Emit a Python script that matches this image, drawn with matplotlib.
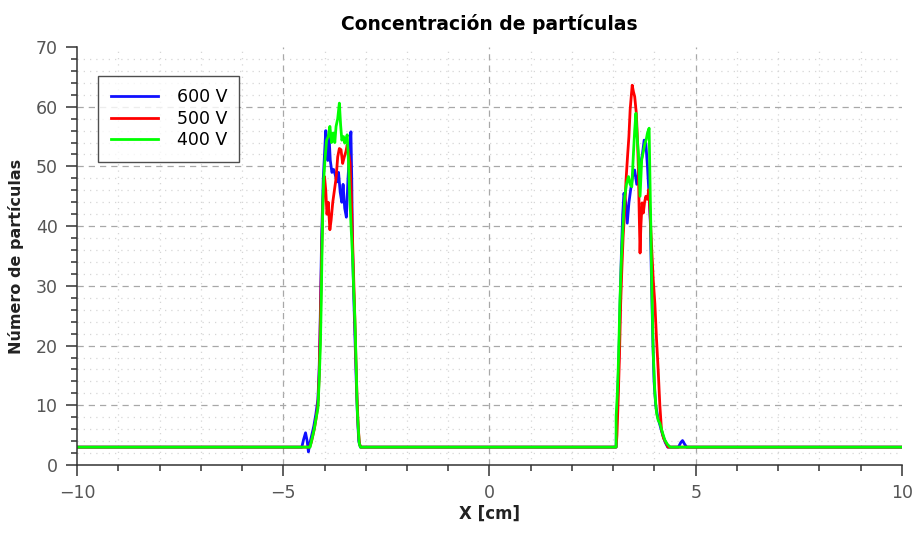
import matplotlib
matplotlib.use("Agg")
import matplotlib.pyplot as plt
from matplotlib.ticker import MultipleLocator

plt.rcParams['font.family'] = ['DejaVu Sans']

# 600 V
x_600 = [-10, -4.55, -4.51, -4.46, -4.42, -4.39, -4.36, -4.31, -4.26, -4.21, -4.16, -4.13,
         -4.11, -4.09, -4.07, -4.05, -4.03, -4.00, -3.97, -3.95, -3.92, -3.89, -3.86, -3.82,
         -3.78, -3.74, -3.70, -3.66, -3.62, -3.58, -3.55, -3.51, -3.47, -3.43, -3.39, -3.36,
         -3.34, -3.32, -3.29, -3.26, -3.23, -3.20, -3.17, -3.13,
         3.07, 3.08, 3.11, 3.14, 3.17, 3.20, 3.23, 3.26, 3.30, 3.34, 3.38, 3.42, 3.47, 3.52,
         3.57, 3.62, 3.67, 3.71, 3.75, 3.79, 3.83, 3.87, 3.90, 3.93, 3.96, 3.99, 4.03, 4.08,
         4.14, 4.20, 4.26, 4.32, 4.58, 4.64, 4.68, 4.73, 4.78, 10]
y_600 = [3, 3, 4.2, 5.4, 4.0, 2.2, 3.5, 5.0, 6.5, 8.5, 11, 16,
         22, 30, 38, 43, 48, 52, 56, 54, 51, 55, 51, 49,
         49.5, 48.6, 47.4, 49, 45.7, 44, 47, 43, 41.5, 48, 53, 55.8,
         48, 36, 28, 21, 14, 8, 4, 3,
         3, 7, 12, 19, 28, 36, 42, 45.5, 44, 40.5, 43.9, 46, 48.3, 49.4,
         47, 49, 50.6, 52.2, 54.4, 53.9, 50, 45, 40.5, 30, 21, 14, 10, 8,
         6.5, 5, 3.8, 3, 3, 3.8, 4.1, 3.5, 3, 3]

# 500 V
x_500 = [-10, -4.36, -4.32, -4.28, -4.24, -4.20, -4.16, -4.13, -4.11, -4.09, -4.07, -4.05,
         -4.03, -4.00, -3.97, -3.94, -3.91, -3.87, -3.84, -3.80, -3.76, -3.72, -3.68, -3.64,
         -3.60, -3.56, -3.52, -3.48, -3.45, -3.41, -3.38, -3.35, -3.33, -3.30, -3.27, -3.24,
         -3.21, -3.18, -3.15, -3.12,
         3.07, 3.09, 3.12, 3.15, 3.18, 3.21, 3.24, 3.28, 3.31, 3.35, 3.38, 3.41, 3.44, 3.46,
         3.49, 3.52, 3.56, 3.59, 3.61, 3.63, 3.65, 3.67, 3.70, 3.73, 3.76, 3.79, 3.83, 3.86,
         3.89, 3.93, 3.97, 4.01, 4.05, 4.09, 4.13, 4.17, 4.22, 4.28, 4.33, 10]
y_500 = [3, 3, 3.8, 5, 6.3, 8, 10, 15, 21, 28, 35, 41,
         45, 48.3, 46, 42, 44, 39.4, 41, 44, 46, 48, 51.6, 53,
         52.8, 50.5, 51.6, 52.5, 53.6, 52, 50.6, 45, 40, 33, 26, 18,
         11, 6, 3.5, 3,
         3, 5, 11, 18, 27, 33, 38.2, 43, 47.7, 52, 55, 59.5, 62, 63.6,
         62.5, 61.7, 58.9, 54, 49.4, 42, 35.5, 40, 43.9, 42.2, 44, 45, 44.5, 46.1,
         42.7, 36.6, 31, 27, 21, 15.9, 10, 5.9, 4.5, 3.7, 3, 3]

# 400 V
x_400 = [-10, -4.35, -4.30, -4.25, -4.20, -4.16, -4.13, -4.10, -4.08, -4.06, -4.04, -4.02,
         -3.99, -3.95, -3.91, -3.87, -3.83, -3.79, -3.75, -3.72, -3.68, -3.64, -3.61, -3.58,
         -3.54, -3.51, -3.48, -3.45, -3.42, -3.40, -3.36, -3.32, -3.29, -3.26, -3.23, -3.21,
         -3.18, -3.16, -3.13,
         3.07, 3.07, 3.10, 3.12, 3.14, 3.16, 3.18, 3.20, 3.24, 3.28, 3.32, 3.37, 3.41, 3.45,
         3.49, 3.52, 3.55, 3.58, 3.61, 3.65, 3.69, 3.73, 3.77, 3.80, 3.83, 3.87, 3.89, 3.91,
         3.93, 3.95, 3.97, 4.01, 4.05, 4.09, 4.13, 4.19, 4.25, 4.31, 4.38, 10]
y_400 = [3, 3, 4.5, 6, 8, 9.5, 14, 20, 27, 36, 44, 47.7,
         51, 54.4, 55, 56.7, 54, 55.6, 54, 56.7, 58, 60.6, 57, 54.4,
         55, 53.9, 54.5, 55.3, 51, 47.2, 40.5, 34.9, 29, 23.7, 16, 9.8,
         6, 3.7, 3,
         3, 8.1, 12, 15.9, 21, 27, 31, 34.9, 40.5, 45, 47, 48.3, 47, 46.6,
         52.2, 56, 58.9, 55, 52.2, 45, 51.1, 52.5, 53.9, 54.5, 55.6, 56.4, 48, 40.5,
         31.5, 25, 18.7, 12, 8.7, 7.5, 7, 5.5, 4.2, 3.5, 3, 3]

series = [("600 V", x_600, y_600, "#1010ff"),
          ("500 V", x_500, y_500, "#ff0000"),
          ("400 V", x_400, y_400, "#00ff00")]

fig = plt.figure(figsize=(9.17, 5.37), dpi=100)
ax = fig.add_axes([0.084, 0.134, 0.8996, 0.7785])

for label, xs, ys, col in series:
    ax.plot(xs, ys, color=col, lw=2.0, label=label)

ax.set_xlim(-10, 10)
ax.set_ylim(0, 70)
ax.xaxis.set_major_locator(MultipleLocator(5))
ax.xaxis.set_minor_locator(MultipleLocator(1))
ax.yaxis.set_major_locator(MultipleLocator(10))
ax.yaxis.set_minor_locator(MultipleLocator(2))

ax.grid(which='major', color='#a8a8a8', linestyle=(0, (5, 4)), linewidth=0.9)
ax.grid(which='minor', color='#d6d6d6', linestyle=(0, (1, 4)), linewidth=0.9)
ax.set_axisbelow(True)
# no grid lines on the plot edges
for gl, v in zip(ax.get_xgridlines(), ax.get_xticks()):
    if v in (-10, 10):
        gl.set_visible(False)
for gl, v in zip(ax.get_ygridlines(), ax.get_yticks()):
    if v in (0, 70):
        gl.set_visible(False)

for s in ('top', 'right'):
    ax.spines[s].set_visible(False)
for s in ('left', 'bottom'):
    ax.spines[s].set_color('#333333')
    ax.spines[s].set_linewidth(1.1)

ax.tick_params(which='major', direction='out', length=8, width=1.1, color='#333333',
               labelsize=12.5, labelcolor='#555555', pad=6)
ax.tick_params(which='minor', direction='out', length=4.5, width=1.1, color='#333333')

ax.set_title("Concentración de partículas", fontsize=13.5, fontweight='bold', pad=12)
ax.set_xlabel("X [cm]", fontsize=12, fontweight='bold', color='#222222', labelpad=2)
ax.set_ylabel("Número de partículas", fontsize=11.5, fontweight='bold', color='#222222', labelpad=8)

leg = ax.legend(loc='upper left', bbox_to_anchor=(0.026, 0.93), fontsize=12.5,
                frameon=True, fancybox=False, handlelength=2.7, handletextpad=1.1,
                borderpad=0.7, labelspacing=0.2, borderaxespad=0)
leg.get_frame().set_edgecolor('#222222')
leg.get_frame().set_linewidth(1.0)

fig.savefig("out.png", dpi=100)
